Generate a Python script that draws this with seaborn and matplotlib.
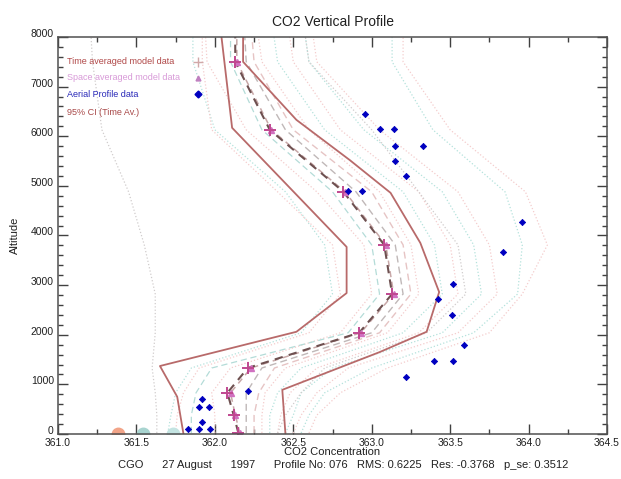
import matplotlib
matplotlib.use('Agg')
import matplotlib.pyplot as plt
import matplotlib.transforms as mtransforms
import seaborn as sns
from matplotlib.ticker import MultipleLocator, FormatStrFormatter

# model levels (altitude, m)
model_alt = [20, 380, 830, 1330, 2040, 2820, 3810, 4880, 6130, 7500, 8600]

time_avg = [362.15, 362.12, 362.08, 362.21, 362.92, 363.13, 363.08, 362.82, 362.35, 362.13, 362.13]
space_avg = [362.16, 362.13, 362.10, 362.23, 362.93, 363.14, 363.09, 362.83, 362.36, 362.14, 362.14]

# dashed neighbours of the mean profile
dash_grey = [362.20, 362.20, 362.20, 362.30, 363.00, 363.20, 363.15, 362.90, 362.45, 362.20, 362.18]
dash_pink = [362.25, 362.25, 362.28, 362.38, 363.05, 363.25, 363.20, 363.00, 362.50, 362.25, 362.22]
dash_cyan = [361.85, 361.85, 361.88, 361.98, 362.85, 363.05, 363.00, 362.75, 362.30, 362.10, 362.10]

# dotted ensemble members
ens_pink_1 = [362.30, 362.30, 362.32, 362.45, 363.10, 363.30, 363.25, 363.05, 362.60, 362.30, 362.25]
ens_cyan_1 = [362.35, 362.35, 362.40, 362.55, 363.20, 363.45, 363.40, 363.20, 362.70, 362.40, 362.35]
ens_pink_2 = [362.40, 362.42, 362.48, 362.65, 363.30, 363.55, 363.50, 363.30, 362.80, 362.50, 362.45]
ens_cyan_2 = [362.45, 362.50, 362.55, 362.75, 363.45, 363.70, 363.65, 363.45, 362.95, 362.60, 362.55]
ens_pink_3 = [362.50, 362.55, 362.65, 362.85, 363.55, 363.80, 363.75, 363.55, 363.05, 362.65, 362.60]
ens_cyan_3 = [362.55, 362.60, 362.70, 363.00, 363.65, 363.93, 363.96, 363.85, 363.39, 363.13, 363.13]
ens_pink_4 = [362.60, 362.65, 362.80, 363.10, 363.75, 363.96, 364.12, 363.98, 363.50, 363.20, 363.20]
ens_grey_1 = [362.40, 362.45, 362.55, 362.70, 363.35, 363.60, 363.55, 363.30, 363.00, 362.60, 362.55]
ens_pink_5 = [362.00, 362.00, 361.98, 362.10, 362.80, 363.00, 362.95, 362.65, 362.20, 361.95, 361.93]
ens_cyan_4 = [361.70, 361.72, 361.75, 361.85, 362.55, 362.75, 362.70, 362.45, 362.00, 361.86, 361.86]
ens_pink_6 = [361.75, 361.76, 361.80, 361.90, 362.60, 362.80, 362.75, 362.40, 361.98, 361.92, 361.92]
ens_grey_2 = [361.63, 361.63, 361.62, 361.60, 361.62, 361.62, 361.55, 361.45, 361.28, 361.22, 361.20]

# 95% confidence interval of the time average
ci_low_alt = [0, 750, 1370, 2060, 2840, 3770, 6170, 8600]
ci_low_co2 = [361.80, 361.76, 361.65, 362.52, 362.84, 362.84, 362.11, 362.02]
ci_high_alt = [0, 890, 1650, 2060, 2860, 3850, 4860, 5520, 6330, 7500, 8600]
ci_high_co2 = [362.45, 362.43, 363.05, 363.35, 363.43, 363.31, 363.12, 362.86, 362.52, 362.18, 362.18]

# aircraft profile
aerial_co2 = [362.96, 363.05, 363.14, 363.15, 363.33, 363.15, 363.22, 362.85, 362.94,
              363.96, 363.84, 363.52, 363.42, 363.51, 363.59, 363.40, 363.52, 363.22,
              362.21, 361.92, 361.90, 361.96, 361.92, 361.83, 361.90, 361.97]
aerial_alt = [6450, 6150, 6150, 5810, 5810, 5500, 5200, 4900, 4900,
              4270, 3670, 3020, 2720, 2400, 1790, 1470, 1470, 1150,
              870, 710, 540, 540, 240, 100, 100, 100]

# surface station values
surface_co2 = [361.38, 361.54, 361.73]
surface_col = ['#f2a488', '#a8d4d0', '#c4e4e2']

sns.set_theme(style='ticks')
plt.rcParams['font.family'] = ['Liberation Sans', 'DejaVu Sans']

fig = plt.figure(figsize=(6.21, 4.79), dpi=100)
ax = fig.add_axes([58 / 621, 1 - 434 / 479, (607 - 58) / 621, (434 - 37) / 479])

PINK = '#f4cccc'
CYAN = '#b4e2dc'
GREY = '#d0cccc'


def profile(vals, alt, color, ls, lw, **kw):
    sns.lineplot(x=vals, y=alt, ax=ax, orient='y', estimator=None, sort=False,
                 color=color, linestyle=ls, linewidth=lw, **kw)


for vals, col in [(ens_pink_1, PINK), (ens_cyan_1, CYAN), (ens_pink_2, PINK),
                  (ens_cyan_2, CYAN), (ens_pink_3, PINK), (ens_cyan_3, CYAN),
                  (ens_pink_4, PINK), (ens_grey_1, GREY), (ens_pink_5, PINK),
                  (ens_cyan_4, CYAN), (ens_pink_6, PINK), (ens_grey_2, GREY)]:
    profile(vals, model_alt, col, ':', 0.9)

profile(dash_cyan, model_alt, '#b4dcd8', (0, (5, 3)), 0.9)
profile(dash_pink, model_alt, '#e6c4c4', (0, (5, 3)), 1.0)
profile(dash_grey, model_alt, '#c0b8b8', (0, (5, 3)), 1.0)

profile(ci_low_co2, ci_low_alt, '#b86a6a', '-', 1.3)
profile(ci_high_co2, ci_high_alt, '#b86a6a', '-', 1.3)

profile(space_avg, model_alt, '#c8a8a8', (0, (4, 3)), 1.1)
profile(time_avg, model_alt, '#6e5050', (0, (4, 3)), 1.5)

ax.plot(space_avg, model_alt, linestyle='none', marker='^', markersize=4,
        color='#d070c0', clip_on=True)
ax.plot(time_avg, model_alt, linestyle='none', marker='+', markersize=8,
        markeredgewidth=1.4, color='#c04890', clip_on=True)

sns.scatterplot(x=aerial_co2, y=aerial_alt, ax=ax, marker='D', s=10,
                color='#0000c0', edgecolor='#0000c0', linewidth=0.6, zorder=5)

for v, c in zip(surface_co2, surface_col):
    ax.plot([v], [0], marker='o', markersize=9, color=c, linestyle='none', clip_on=True)

ax.set_xlim(361.0, 364.5)
ax.set_ylim(0, 8000)
ax.xaxis.set_major_locator(MultipleLocator(0.5))
ax.xaxis.set_minor_locator(MultipleLocator(0.25))
ax.yaxis.set_major_locator(MultipleLocator(1000))
ax.yaxis.set_minor_locator(MultipleLocator(200))
ax.xaxis.set_major_formatter(FormatStrFormatter('%.1f'))
ax.tick_params(which='both', direction='in', top=True, right=True,
               colors='#404040', labelcolor='#202020', labelsize=7.5, width=1.0)
ax.tick_params(which='major', length=7)
ax.tick_params(which='minor', length=3.5)
ax.tick_params(axis='x', pad=3)
ax.tick_params(axis='y', pad=3)
for sp in ax.spines.values():
    sp.set_color('#505050')
    sp.set_linewidth(1.1)

# IDL puts the altitude labels a little above their ticks
lift = mtransforms.ScaledTranslation(0, 4 / 100, fig.dpi_scale_trans)
for tick in ax.yaxis.get_major_ticks():
    tick.label1.set_transform(tick.label1.get_transform() + lift)

ax.set_title('CO2 Vertical Profile', fontsize=10, color='#202020', pad=8)
ax.set_xlabel('CO2 Concentration', fontsize=8, color='#202020', labelpad=-1)
ax.set_ylabel('Altitude', fontsize=8, color='#202020', labelpad=8)

# legend drawn IDL-style as text inside the axes
leg_items = [('Time averaged model data', '#b04848', '+', '#d0a8a8', 7500),
             ('Space averaged model data', '#d89ad8', '^', '#c080c0', 7180),
             ('Aerial Profile data', '#2828b8', 'D', '#0000c0', 6850),
             ('95% CI (Time Av.)', '#a84848', None, None, 6470)]
for label, tcol, mk, mcol, yv in leg_items:
    ax.text(361.06, yv, label, fontsize=6.5, color=tcol, va='center', ha='left')
    if mk:
        ax.plot([361.89], [yv], marker=mk, markersize=3.5 if mk != '+' else 7,
                color=mcol, linestyle='none')

fig.text(343 / 621, 1 - 465 / 479,
         'CGO      27 August      1997      Profile No: 076   RMS: 0.6225   Res: -0.3768   p_se: 0.3512',
         fontsize=8, color='#202020', ha='center', va='center')

fig.savefig('out.png', dpi=100)
